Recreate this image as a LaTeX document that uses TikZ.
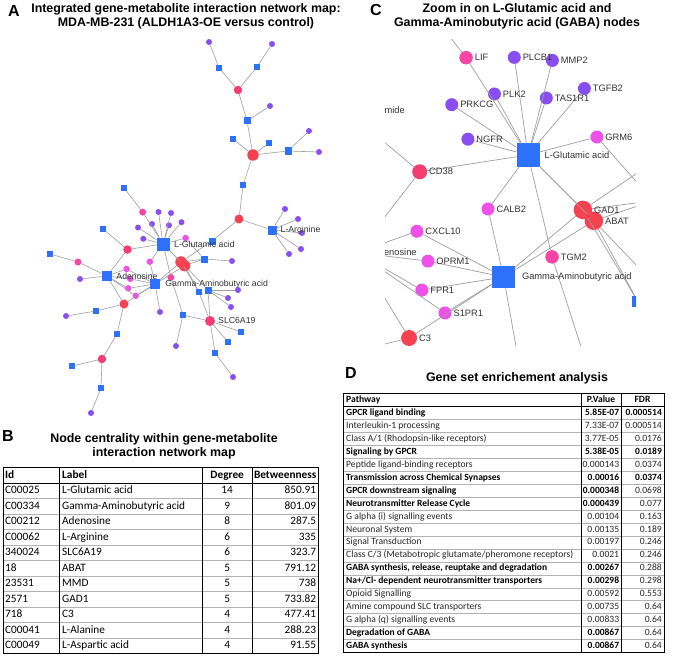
\documentclass[tikz,border=0pt]{standalone}
\usepackage{fontspec}
\setmainfont{Liberation Sans}
\newfontfamily\calibri{Carlito}
\usetikzlibrary{positioning}

\definecolor{netblue}{RGB}{45,112,250}
\definecolor{netpurple}{RGB}{136,78,240}
\definecolor{netmagenta}{RGB}{238,80,232}
\definecolor{nethotpink}{RGB}{245,70,165}
\definecolor{netrose}{RGB}{242,62,112}
\definecolor{netred}{RGB}{246,66,80}
\definecolor{netedge}{RGB}{158,158,158}

\tikzset{
  gene/.style={circle, inner sep=0pt, outer sep=0pt},
  nPu/.style={gene, fill=netpurple, minimum size=6pt},
  nMa/.style={gene, fill=netmagenta, minimum size=6.5pt},
  nPk/.style={gene, fill=nethotpink, minimum size=7pt},
  nRo/.style={gene, fill=netrose, minimum size=8.5pt},
  nRoL/.style={gene, fill=netrose, minimum size=10pt},
  nRd/.style={gene, fill=netred, minimum size=9pt},
  nRdL/.style={gene, fill=netred, minimum size=11.5pt},
  metab/.style={rectangle, inner sep=0pt, outer sep=0pt, fill=netblue},
  sqS/.style={metab, minimum size=5.5pt},
  sqM/.style={metab, minimum size=7pt},
  sqL/.style={metab, minimum size=9pt},
  sqA/.style={metab, minimum size=10.5pt},
  sqG/.style={metab, minimum size=13pt},
  link/.style={draw=netedge, line width=0.6pt},
  alabel/.style={font=\fontsize{8.7}{10}\selectfont, text=black!80, inner sep=0pt},
  clabel/.style={font=\fontsize{9.3}{11}\selectfont, text=black!80, inner sep=0pt},
  title/.style={font=\fontsize{12.4}{14.2}\selectfont\bfseries, align=center, inner sep=0pt},
  panel/.style={font=\fontsize{16}{18}\selectfont\bfseries, inner sep=0pt},
  btext/.style={font=\calibri\fontsize{11.3}{13}\selectfont, inner sep=0pt, text height=8pt, text depth=2pt},
  bhead/.style={btext, font=\calibri\bfseries\fontsize{11.3}{13}\selectfont},
  dtext/.style={font=\calibri\fontsize{9.6}{11.5}\selectfont, inner sep=0pt, text height=7pt, text depth=1.9pt},
  dhead/.style={dtext, font=\calibri\bfseries\fontsize{9.6}{11.5}\selectfont},
  cellB/.style={font=\calibri\bfseries\fontsize{9.5}{11.5}\selectfont},
  cellN/.style={text=black!85},
  tabouter/.style={draw=black, line width=1pt},
  tabline/.style={draw=black, line width=0.6pt},
  hline/.style={draw=black!30, line width=0.5pt},
}

% network nodes, positions in panel A pixels
\newcommand{\netnodes}[1]{%
  \foreach \nm/\st/\x/\y in {
    t1/nPu/209/42, t2/nPu/272/44, t3/sqS/219/68, t4/sqS/257/67, t5/nRo/238/90,
    t6/nPu/270/106, t7/sqM/247/121, t8/sqS/233/139, t9/sqS/269/143, t10/nRdL/253/155,
    t11/sqM/288/151, t12/nPu/309/131, t13/nPu/319/152, t14/sqS/243/185, t15/nRd/239/219,
    arg/sqL/272/230, ar1/nPu/285/209, ar2/nPu/298/219, ar3/nPu/302/233, ar4/nPu/301/249,
    ar5/nPu/289/254, b8/sqM/212/241,
    prkcg/nPu/138/227.5, plk2/nPu/152/224, plcb1/nPu/158.5/212, mmp2/nPu/171/213,
    tas1r1/nPu/169/225.3, tgfb2/nPu/181.5/222.2, ngfr/nPu/143.3/238.8, lif/nPk/142.7/212.1,
    grm6/nMa/185.6/238.1, calb2/nMa/149.9/261.7, tgm2/nPk/170.9/277.4, cd38/nRo/127.5/249.5,
    cxcl10/nMa/126.6/269, oprm1/nMa/130.2/278.8, fpr1/nMa/128.2/288.3, s1pr1/nMa/135.8/295.8,
    c3/nRd/124/304, gad1/nRdL/181/262, abat/nRdL/184.6/265.6,
    glu/sqG/163/244, gaba/sqA/155/284, aden/sqA/107/276,
    lb1/sqS/124/188, mide/sqS/103/229, ad1/nPk/78/262, ad2/sqS/50/254, ad3/nPu/80/279,
    c31/sqS/96/311, c32/nPu/66/316, c33/sqS/117/334, c34/nRo/102/359, c35/sqS/72/366,
    c36/sqS/101/388, c37/nPu/91/413, ga1/nPu/160/312,
    b9/sqM/204/259, b9p/nPu/232/261, b10/sqM/208/290, b10a/nPu/238/290, b10b/nPu/228/298,
    b10c/nPu/231/307, b11/sqS/199/292, slc/nRoL/210/321,
    s1/sqS/183/315, s1p/nPu/176/346, s2/sqS/241/332, s3/sqS/228/342, s4/sqS/215/353,
    s4p/nPu/233/377}
    {\node[\st] (#1-\nm) at (\x,\y) {};}%
}
\newcommand{\netlinks}[1]{%
  \foreach \u/\v in {
    t1/t3, t3/t5, t2/t4, t4/t5, t5/t7, t7/t6, t7/t10, t10/t8, t10/t9, t10/t11,
    t11/t12, t11/t13, t10/t14, t14/t15, t15/arg, arg/ar1, arg/ar2, arg/ar3, arg/ar4,
    arg/ar5, t15/b8, b8/gad1,
    glu/prkcg, glu/plk2, glu/plcb1, glu/mmp2, glu/tas1r1, glu/tgfb2, glu/ngfr, glu/lif,
    glu/grm6, glu/calb2, glu/gad1, glu/abat, glu/cd38, glu/tgm2,
    lif/lb1, cd38/mide, cd38/aden, tgm2/s1,
    gaba/calb2, gaba/cxcl10, gaba/oprm1, gaba/fpr1, gaba/s1pr1, gaba/gad1, gaba/abat,
    gaba/c3, gaba/ga1,
    aden/ad1, aden/ad3, aden/c3, aden/cxcl10, aden/oprm1, aden/fpr1, aden/s1pr1, ad1/ad2,
    c3/c31, c31/c32, c3/c33, c33/c34, c34/c35, c34/c36, c36/c37,
    gad1/b9, gad1/b11, abat/b9, abat/b10, abat/b11, grm6/b9, b9/b9p,
    b10/b10a, b10/b10b, b10/b10c, slc/b10, slc/b11, slc/s1, slc/s2, slc/s3, slc/s4,
    s1/s1p, s4/s4p}
    {\draw[link] (#1-\u) -- (#1-\v);}%
}

\begin{document}
\begin{tikzpicture}[x=1pt, y=-1pt]
  \useasboundingbox (0,0) rectangle (676,655);
  \fill[white] (0,0) rectangle (676,655);

  % Panel A: network map
  \node[panel] (lblA) at (14,10.5) {A};
  \node[title] (titleA) at (186,16) {Integrated gene-metabolite interaction network map:\\MDA-MB-231 (ALDH1A3-OE versus control)};
  \netnodes{a}
  \netlinks{a}
  \node[alabel, right=4.5pt of a-glu] (al-glu) {L-Glutamic acid};
  \node[alabel, right=4pt of a-aden] (al-aden) {Adenosine};
  \node[alabel, right=5pt of a-gaba] (al-gaba) {Gamma-Aminobutyric acid};
  \node[alabel, right=3pt of a-slc] (al-slc) {SLC6A19};
  \node[alabel, right=4pt of a-arg] (al-arg) {L-Arginine};

  % Panel C: zoom on the two metabolites
  \node[panel] (lblC) at (376,9.5) {C};
  \node[title] (titleC) at (517,16) {Zoom in on L-Glutamic acid and\\Gamma-Aminobutyric acid (GABA) nodes};
  \begin{scope}
    \clip (385,40) rectangle (636,345);
    \begin{scope}[shift={(528,155)}, scale=3.05, shift={(-163,-244)},
        nPu/.append style={minimum size=13pt}, nMa/.append style={minimum size=13pt},
        nPk/.append style={minimum size=13.5pt}, nRo/.append style={minimum size=15pt},
        nRoL/.append style={minimum size=16pt}, nRd/.append style={minimum size=16pt},
        nRdL/.append style={minimum size=18.5pt}, sqS/.append style={minimum size=11.5pt},
        sqM/.append style={minimum size=13pt}, sqL/.append style={minimum size=16pt},
        sqA/.append style={minimum size=22.5pt}, sqG/.append style={minimum size=23pt},
        link/.append style={line width=0.7pt}]
      \netnodes{c}
      \netlinks{c}
    \end{scope}
    \foreach \nm/\tx in {lif/LIF, plcb1/PLCB1, mmp2/MMP2, tgfb2/TGFB2, plk2/PLK2,
        tas1r1/TAS1R1, prkcg/PRKCG, ngfr/NGFR, grm6/GRM6, cd38/CD38, calb2/CALB2,
        gad1/GAD1, abat/ABAT, cxcl10/CXCL10, oprm1/OPRM1, tgm2/TGM2, fpr1/FPR1,
        s1pr1/S1PR1, c3/C3}
      \node[clabel, right=1.8pt of c-\nm] (cl-\nm) {\tx};
    \node[clabel, right=5pt of c-glu] (cl-glu) {L-Glutamic acid};
    \node[clabel, right=7pt of c-gaba] (cl-gaba) {Gamma-Aminobutyric acid};
    \node[clabel, right=4pt of c-aden] (cl-aden) {Adenosine};
    \node[clabel, anchor=east] (cl-mide) at (405,110) {mide};
  \end{scope}

  % Panel B: centrality table
  \node[panel] (lblB) at (8,436) {B};
  \node[title] (titleB) at (164,446.5) {Node centrality within gene-metabolite\\interaction network map};
  \foreach \k in {2,...,11}
    \draw[hline] (3,{467.7+15.47*\k}) -- (318,{467.7+15.47*\k});
  \draw[tabline] (3,483.17) -- (318,483.17);
  \foreach \xx in {59,202,252.5}
    \draw[tabline] (\xx,467.7) -- (\xx,653.3);
  \draw[tabouter] (3,467.7) rectangle (318,653.3);
  \node[bhead, anchor=west] (bh-id) at (5,475.4) {Id};
  \node[bhead, anchor=west] (bh-lab) at (62,475.4) {Label};
  \node[bhead] (bh-deg) at (227.2,475.4) {Degree};
  \node[bhead] (bh-btw) at (285.2,475.4) {Betweenness};
  \foreach \id/\lab/\deg/\btw [count=\i] in {
      C00025/L-Glutamic acid/14/850.91, C00334/Gamma-Aminobutyric acid/9/801.09,
      C00212/Adenosine/8/287.5, C00062/L-Arginine/6/335, 340024/SLC6A19/6/323.7,
      18/ABAT/5/791.12, 23531/MMD/5/738, 2571/GAD1/5/733.82, 718/C3/4/477.41,
      C00041/L-Alanine/4/288.23, C00049/L-Aspartic acid/4/91.55} {
    \node[btext, anchor=west] (b\i-id) at (5,{467.7+15.47*(\i+0.5)}) {\id};
    \node[btext, anchor=west] (b\i-lab) at (62,{467.7+15.47*(\i+0.5)}) {\lab};
    \node[btext] (b\i-deg) at (227.2,{467.7+15.47*(\i+0.5)}) {\deg};
    \node[btext, anchor=east] (b\i-btw) at (316.3,{467.7+15.47*(\i+0.5)}) {\btw};
  }

  % Panel D: enrichment table
  \node[panel] (lblD) at (351,372.5) {D};
  \node[title] (titleD) at (517,378) {Gene set enrichement analysis};
  \foreach \k in {2,...,19}
    \draw[hline] (343,{393.5+12.95*\k}) -- (664,{393.5+12.95*\k});
  \draw[tabline] (343,406.45) -- (664,406.45);
  \foreach \xx in {581,621}
    \draw[tabline] (\xx,393.5) -- (\xx,652.5);
  \draw[tabouter] (343,393.5) rectangle (664,652.5);
  \node[dhead, anchor=west] (dh-pw) at (346,400) {Pathway};
  \node[dhead] (dh-pv) at (601,400) {P.Value};
  \node[dhead] (dh-fd) at (642.5,400) {FDR};
  \foreach \pw/\pv/\fd/\sa/\sb [count=\i] in {
      {GPCR ligand binding}/5.85E-07/0.000514/cellB/cellB,
      {Interleukin-1 processing}/7.33E-07/0.000514/cellN/cellN,
      {Class A/1 (Rhodopsin-like receptors)}/3.77E-05/0.0176/cellN/cellN,
      {Signaling by GPCR}/5.38E-05/0.0189/cellB/cellB,
      {Peptide ligand-binding receptors}/0.000143/0.0374/cellN/cellN,
      {Transmission across Chemical Synapses}/0.00016/0.0374/cellB/cellB,
      {GPCR downstream signaling}/0.000348/0.0698/cellB/cellN,
      {Neurotransmitter Release Cycle}/0.000439/0.077/cellB/cellN,
      {G alpha (i) signalling events}/0.00104/0.163/cellN/cellN,
      {Neuronal System}/0.00135/0.189/cellN/cellN,
      {Signal Transduction}/0.00197/0.246/cellN/cellN,
      {Class C/3 (Metabotropic glutamate/pheromone receptors)}/0.0021/0.246/cellN/cellN,
      {GABA synthesis, release, reuptake and degradation}/0.00267/0.288/cellB/cellN,
      {Na+/Cl- dependent neurotransmitter transporters}/0.00298/0.298/cellB/cellN,
      {Opioid Signalling}/0.00592/0.553/cellN/cellN,
      {Amine compound SLC transporters}/0.00735/0.64/cellN/cellN,
      {G alpha (q) signalling events}/0.00833/0.64/cellN/cellN,
      {Degradation of GABA}/0.00867/0.64/cellB/cellN,
      {GABA synthesis}/0.00867/0.64/cellB/cellN} {
    \node[dtext, \sa, anchor=west] (d\i-pw) at (346,{393.5+12.95*(\i+0.5)}) {\pw};
    \node[dtext, \sa, anchor=east] (d\i-pv) at (619.3,{393.5+12.95*(\i+0.5)}) {\pv};
    \node[dtext, \sb, anchor=east] (d\i-fd) at (662,{393.5+12.95*(\i+0.5)}) {\fd};
  }
\end{tikzpicture}
\end{document}
